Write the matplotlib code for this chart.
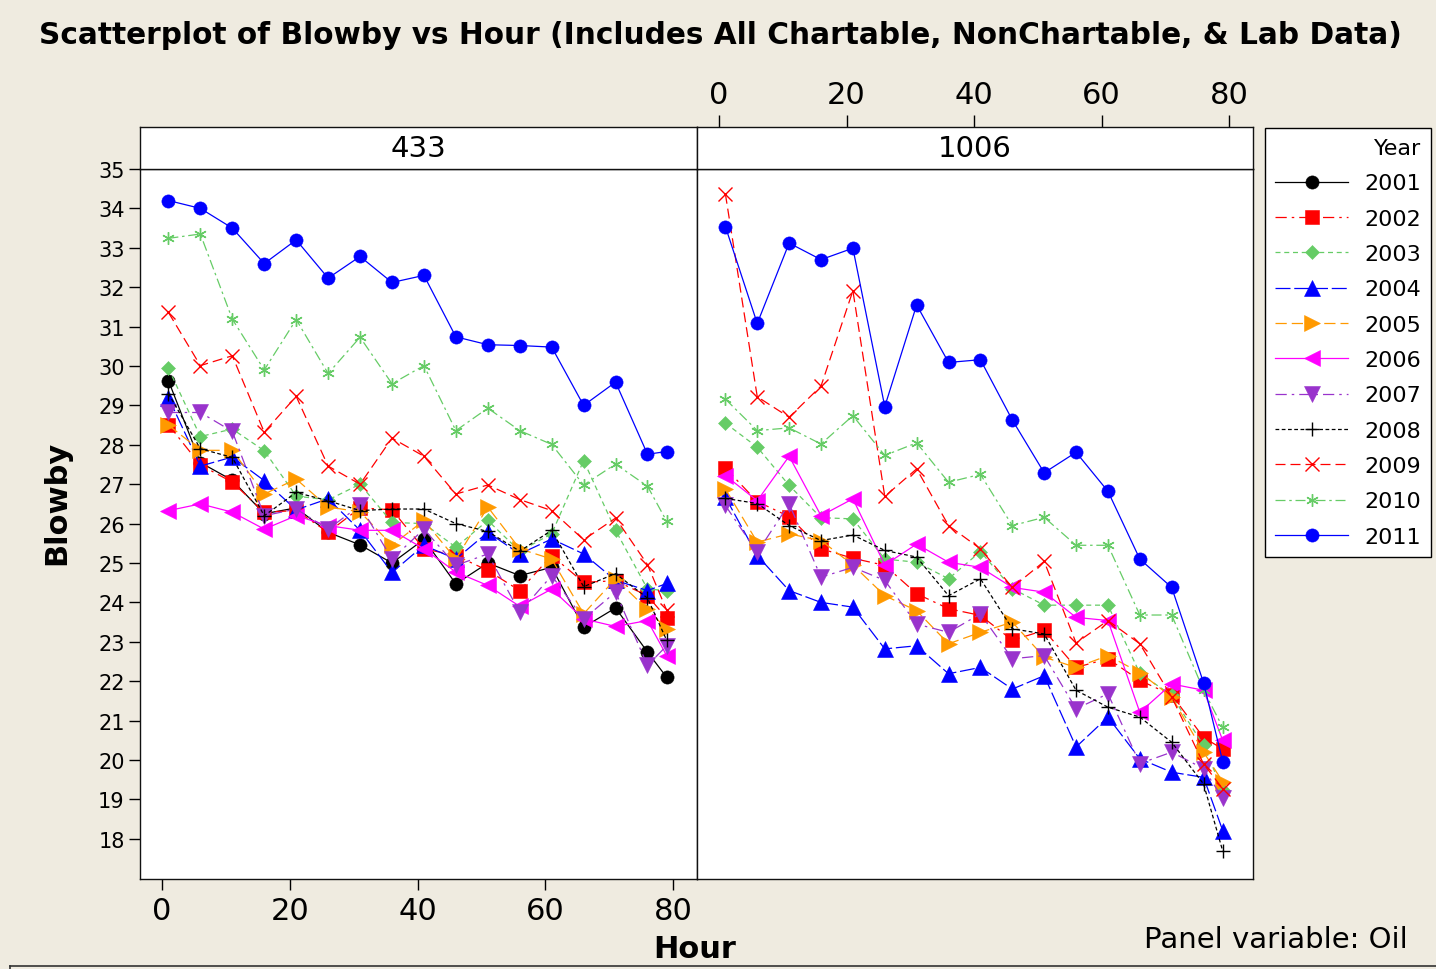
import matplotlib
matplotlib.use("Agg")
import matplotlib.pyplot as plt
from matplotlib.lines import Line2D

# ---------------- data ----------------
hours = [1, 6, 11, 16, 21, 26, 31, 36, 41, 46, 51, 56, 61, 66, 71, 76, 79]
years = ["2001", "2002", "2003", "2004", "2005", "2006",
         "2007", "2008", "2009", "2010", "2011"]
panels = ["433", "1006"]
x_ticks = [0, 20, 40, 60, 80]
y_ticks = list(range(18, 36))

# Oil 433
oil433_2001 = [29.63, 27.55, 27.1, 26.25, 26.4, 25.78, 25.46, 25.0, 25.6, 24.47, 25.0, 24.68, 24.89, 23.37, 23.86, 22.74, 22.1]
oil433_2002 = [28.51, 27.49, 27.05, 26.29, 26.33, 25.78, 26.4, 26.35, 25.36, 25.19, 24.81, 24.3, 25.19, 24.51, 24.55, 24.17, 23.6]
oil433_2003 = [29.94, 28.21, 28.4, 27.85, 26.7, 26.6, 27.0, 26.03, 26.0, 25.4, 26.08, 25.3, 25.74, 27.6, 25.83, 24.34, 24.3]
oil433_2004 = [29.2, 27.46, 27.69, 27.09, 26.35, 26.63, 25.83, 24.76, 25.45, 25.1, 25.78, 25.23, 25.61, 25.23, 24.56, 24.3, 24.48]
oil433_2005 = [28.5, 27.86, 27.86, 26.75, 27.13, 26.42, 26.3, 25.45, 26.08, 25.1, 26.42, 25.36, 25.1, 23.71, 24.6, 23.82, 23.33]
oil433_2006 = [26.33, 26.5, 26.29, 25.86, 26.2, 25.95, 25.83, 25.83, 25.36, 24.77, 24.43, 23.9, 24.34, 23.58, 23.39, 23.54, 22.65]
oil433_2007 = [28.82, 28.82, 28.34, 26.2, 26.37, 25.86, 26.46, 25.1, 25.86, 24.94, 25.23, 23.75, 24.68, 23.58, 24.26, 22.4, 22.9]
oil433_2008 = [29.3, 27.9, 27.68, 26.2, 26.79, 26.58, 26.33, 26.37, 26.37, 26.0, 25.8, 25.3, 25.83, 24.4, 24.73, 24.11, 23.04]
oil433_2009 = [31.36, 30.01, 30.26, 28.32, 29.23, 27.46, 27.0, 28.17, 27.71, 26.75, 26.98, 26.61, 26.33, 25.59, 26.14, 24.96, 23.8]
oil433_2010 = [33.24, 33.35, 31.19, 29.9, 31.18, 29.81, 30.73, 29.55, 30.01, 28.36, 28.93, 28.36, 28.01, 26.98, 27.51, 26.95, 26.06]
oil433_2011 = [34.2, 34.0, 33.5, 32.6, 33.2, 32.23, 32.78, 32.12, 32.3, 30.74, 30.54, 30.52, 30.48, 29.0, 29.59, 27.76, 27.83]

# Oil 1006 (no 2001 data)
oil1006_2002 = [27.41, 26.56, 26.18, 25.36, 25.12, 24.94, 24.22, 23.84, 23.67, 23.04, 23.29, 22.35, 22.57, 22.02, 21.65, 20.57, 20.28]
oil1006_2003 = [28.55, 27.94, 26.97, 26.15, 26.12, 25.1, 25.02, 24.6, 25.29, 24.35, 23.93, 23.93, 23.93, 22.2, 21.64, 20.37, 19.23]
oil1006_2004 = [26.67, 25.19, 24.3, 24.0, 23.88, 22.82, 22.9, 22.19, 22.35, 21.8, 22.14, 20.33, 21.09, 20.03, 19.69, 19.56, 18.21]
oil1006_2005 = [26.88, 25.53, 25.74, 25.57, 24.95, 24.17, 23.79, 22.95, 23.24, 23.5, 22.61, 22.35, 22.65, 22.22, 21.6, 20.2, 19.45]
oil1006_2006 = [27.22, 26.58, 27.71, 26.2, 26.63, 24.95, 25.48, 25.02, 24.89, 24.38, 24.26, 23.62, 23.54, 21.21, 21.93, 21.77, 20.5]
oil1006_2007 = [26.46, 25.27, 26.5, 24.64, 24.89, 24.56, 23.45, 23.24, 23.71, 22.57, 22.65, 21.3, 21.68, 19.91, 20.2, 19.78, 19.03]
oil1006_2008 = [26.64, 26.51, 25.95, 25.57, 25.71, 25.32, 25.15, 24.17, 24.6, 23.33, 23.2, 21.77, 21.34, 21.09, 20.45, 19.39, 17.69]
oil1006_2009 = [34.37, 29.22, 28.7, 29.49, 31.91, 26.69, 27.39, 25.95, 25.36, 24.38, 25.04, 22.97, 23.54, 22.95, 21.6, 19.9, 19.27]
oil1006_2010 = [29.16, 28.36, 28.43, 28.02, 28.74, 27.73, 28.05, 27.05, 27.25, 25.95, 26.16, 25.45, 25.45, 23.68, 23.68, 21.77, 20.83]
oil1006_2011 = [33.54, 31.08, 33.12, 32.7, 32.99, 28.97, 31.55, 30.09, 30.16, 28.63, 27.29, 27.81, 26.82, 25.1, 24.38, 21.96, 19.96]

series = {
    "433": {"2001": oil433_2001, "2002": oil433_2002, "2003": oil433_2003,
            "2004": oil433_2004, "2005": oil433_2005, "2006": oil433_2006,
            "2007": oil433_2007, "2008": oil433_2008, "2009": oil433_2009,
            "2010": oil433_2010, "2011": oil433_2011},
    "1006": {"2002": oil1006_2002, "2003": oil1006_2003, "2004": oil1006_2004,
             "2005": oil1006_2005, "2006": oil1006_2006, "2007": oil1006_2007,
             "2008": oil1006_2008, "2009": oil1006_2009, "2010": oil1006_2010,
             "2011": oil1006_2011},
}

# ---------------- styles ----------------
BG = "#EFEBE0"
GREEN = "#66CC66"
PURPLE = "#9933CC"
ORANGE = "#FF9900"
styles = {
    "2001": dict(color="black", marker="o", ls="-", ms=9.5),
    "2002": dict(color="red", marker="s", ls=(0, (9, 4, 2, 4)), ms=9.5),
    "2003": dict(color=GREEN, marker="D", ls=(0, (4, 3)), ms=7.6),
    "2004": dict(color="blue", marker="^", ls=(0, (12, 3)), ms=11.5),
    "2005": dict(color=ORANGE, marker=">", ls=(0, (9, 4)), ms=11.5),
    "2006": dict(color="magenta", marker="<", ls="-", ms=11.5),
    "2007": dict(color=PURPLE, marker="v", ls=(0, (9, 4, 2, 4)), ms=11.5),
    "2008": dict(color="black", marker="+", ls=(0, (3, 2)), ms=10),
    "2009": dict(color="red", marker="x", ls=(0, (8, 4)), ms=10.5),
    "2010": dict(color=GREEN, marker=(6, 2, 0), ls=(0, (8, 3, 2, 3)), ms=9),
    "2011": dict(color="blue", marker="o", ls="-", ms=9.5),
}

W, H = 1436, 970
fig = plt.figure(figsize=(W / 100, H / 100), dpi=100, facecolor=BG)


def fr(x0, y0, x1, y1):
    return [x0 / W, 1 - y1 / H, (x1 - x0) / W, (y1 - y0) / H]


ax_l = fig.add_axes(fr(140, 170, 697, 880))
ax_r = fig.add_axes(fr(697, 170, 1253, 880))
hd_l = fig.add_axes(fr(140, 128, 697, 170))
hd_r = fig.add_axes(fr(697, 128, 1253, 170))

XLIM = (-3.45, 83.75)
YLIM = (16.98, 35.0)

handles = {}
for ax, pname in zip([ax_l, ax_r], panels):
    for yr in years:
        if yr not in series[pname]:
            continue
        st = styles[yr]
        filled = st["marker"] not in ("+", "x", (6, 2, 0))
        ln, = ax.plot(hours, series[pname][yr], color=st["color"], ls=st["ls"],
                      lw=0.9, marker=st["marker"], ms=st["ms"],
                      mfc=st["color"], mec=st["color"],
                      mew=0.4 if filled else 1.0, label=yr)
        if yr not in handles:
            handles[yr] = ln
    ax.set_xlim(XLIM)
    ax.set_ylim(YLIM)
    ax.set_facecolor("white")
    for sp in ax.spines.values():
        sp.set_linewidth(1.0)
        sp.set_color("#111111")

# left panel ticks
ax_l.set_yticks(y_ticks)
ax_l.set_xticks(x_ticks)
ax_l.tick_params(axis="y", direction="out", length=8, width=1, labelsize=15, pad=3)
ax_l.tick_params(axis="x", direction="out", length=8, width=1, labelsize=22, pad=4)
ax_r.set_xticks([])
ax_r.set_yticks([])

# strip headers
for hd, pname in zip([hd_l, hd_r], panels):
    hd.set_xlim(XLIM)
    hd.set_ylim(0, 1)
    hd.set_facecolor("white")
    hd.set_yticks([])
    hd.text(0.5, 0.5, pname, transform=hd.transAxes, ha="center", va="center",
            fontsize=21)
    for sp in hd.spines.values():
        sp.set_linewidth(1.0)
        sp.set_color("#111111")
hd_l.set_xticks([])
hd_r.xaxis.tick_top()
hd_r.set_xticks(x_ticks)
hd_r.tick_params(axis="x", direction="out", length=9, width=1, labelsize=22, pad=4)

# titles and labels
title = fig.text(720 / W, 1 - 35 / H,
                 "Scatterplot of Blowby vs Hour (Includes All Chartable, NonChartable, & Lab Data)",
                 ha="center", va="center", fontsize=20, fontweight="bold")
renderer = fig.canvas.get_renderer()
tw = title.get_window_extent(renderer).width
title.set_fontsize(20 * 1365 / tw)

fig.text(57 / W, 1 - 503 / H, "Blowby", rotation=90, ha="center", va="center",
         fontsize=22, fontweight="bold")
fig.text(695 / W, 1 - 950 / H, "Hour", ha="center", va="center",
         fontsize=22, fontweight="bold")
fig.text(1408 / W, 1 - 940 / H, "Panel variable: Oil", ha="right", va="center",
         fontsize=21)

# legend
leg = fig.legend([handles[y] for y in years], years, title="Year",
                 loc="upper left", bbox_to_anchor=(1265 / W, 1 - 129 / H),
                 frameon=True, fancybox=False, edgecolor="black", framealpha=1,
                 fontsize=16, title_fontsize=16, handlelength=3.3,
                 handletextpad=0.7, labelspacing=0.69, borderpad=0.45,
                 borderaxespad=0, numpoints=1)
leg.get_frame().set_linewidth(1.0)
leg._legend_box.align = "right"

# outer frame
fig.add_artist(Line2D([10 / W, 10 / W], [0, 1 - 967 / H], transform=fig.transFigure,
                      color="#333333", lw=1.2))
fig.add_artist(Line2D([10 / W, 1], [1 - 967 / H, 1 - 967 / H], transform=fig.transFigure,
                      color="#333333", lw=1.2))

fig.savefig("out.png", dpi=100, facecolor=BG)
